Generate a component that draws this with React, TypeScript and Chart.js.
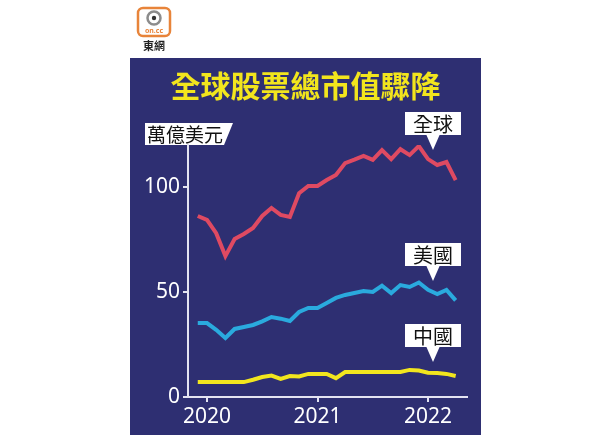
import React, { useEffect, useRef } from 'react';
import { Chart, registerables } from 'chart.js';

Chart.register(...registerables);

// Monthly points, Dec 2019 – Apr 2022
const months = [
  '2019-12', '2020-01', '2020-02', '2020-03', '2020-04', '2020-05', '2020-06', '2020-07', '2020-08', '2020-09', '2020-10', '2020-11', '2020-12',
  '2021-01', '2021-02', '2021-03', '2021-04', '2021-05', '2021-06', '2021-07', '2021-08', '2021-09', '2021-10', '2021-11', '2021-12',
  '2022-01', '2022-02', '2022-03', '2022-04',
];

// 萬億美元
const globalValues = [86.2, 84.3, 78, 67.1, 75.2, 77.6, 80.5, 86.2, 90, 86.7, 85.7, 97, 100.5, 100.5, 103.3, 105.7, 111.4, 113, 114.8, 112.9, 117.6, 113.3, 118, 115.2, 119.5, 113.3, 110.5, 111.9, 103.3];
const usValues = [35.2, 35.2, 32, 28.1, 32.4, 33.3, 34.3, 36, 38.1, 37.3, 36.2, 40.5, 42.4, 42.4, 44.8, 47.2, 48.6, 49.5, 50.5, 50, 53, 49.5, 53.3, 52.4, 54.5, 51, 49, 51, 46];
const chinaValues = [7.1, 7.1, 7.1, 7.1, 7.1, 7.1, 8.2, 9.5, 10.2, 8.6, 10, 9.8, 11, 11, 11, 9, 11.9, 11.9, 11.9, 11.9, 11.9, 11.9, 11.9, 12.9, 12.6, 11.6, 11.4, 11, 10];

const seriesNames = ['全球', '美國', '中國'];
const xTickMonths = ['2020-01', '2021-01', '2022-01'];
const xTickLabels = ['2020', '2021', '2022'];
const yTickValues = [0, 50, 100];

const titleText = '全球股票總市值驟降';
const unitText = '萬億美元';

const NAVY = '#2e2f72';
const AXIS = '#e4e4f2';
const NUM_FONT = '"Noto Sans", "DejaVu Sans", sans-serif';
const CJK_FONT = '"Noto Sans CJK TC", "Noto Sans CJK SC", sans-serif';

const decorPlugin = {
  id: 'decor',
  beforeDraw(chart: any) {
    const ctx = chart.ctx as CanvasRenderingContext2D;
    ctx.save();
    ctx.fillStyle = '#ffffff';
    ctx.fillRect(0, 0, chart.width, chart.height);
    // panel
    ctx.fillStyle = NAVY;
    ctx.fillRect(130, 58, 351, chart.height - 58);

    // logo
    ctx.beginPath();
    (ctx as any).roundRect(138, 8, 32, 28, 5);
    ctx.fillStyle = '#ffffff';
    ctx.fill();
    ctx.lineWidth = 2.5;
    ctx.strokeStyle = '#e8843a';
    ctx.stroke();
    ctx.beginPath();
    ctx.arc(154, 18, 6.5, 0, Math.PI * 2);
    ctx.lineWidth = 2.5;
    ctx.strokeStyle = '#8c8c8c';
    ctx.stroke();
    ctx.beginPath();
    ctx.arc(154, 18, 2.2, 0, Math.PI * 2);
    ctx.fillStyle = '#333333';
    ctx.fill();
    ctx.fillStyle = '#e8843a';
    ctx.font = 'bold 7px ' + NUM_FONT;
    ctx.textAlign = 'center';
    ctx.textBaseline = 'middle';
    ctx.fillText('on.cc', 154, 31);
    ctx.fillStyle = '#222222';
    ctx.font = 'bold 11px ' + CJK_FONT;
    ctx.fillText('東網', 154, 46);

    // title
    ctx.fillStyle = '#f2e51d';
    ctx.font = 'bold 30px ' + CJK_FONT;
    ctx.fillText(titleText, 305.5, 86);

    // unit callout
    ctx.beginPath();
    ctx.moveTo(145, 123);
    ctx.lineTo(233, 123);
    ctx.lineTo(224, 145);
    ctx.lineTo(145, 145);
    ctx.closePath();
    ctx.fillStyle = '#ffffff';
    ctx.fill();
    ctx.fillStyle = '#111111';
    ctx.font = '19px ' + CJK_FONT;
    ctx.textAlign = 'left';
    ctx.fillText(unitText, 147, 134.5);
    ctx.restore();
  },
  afterDraw(chart: any) {
    const ctx = chart.ctx as CanvasRenderingContext2D;
    const tops = [112, 243, 324];
    ctx.save();
    // extend x-axis slightly left of y-axis
    ctx.strokeStyle = AXIS;
    ctx.lineWidth = 2;
    ctx.beginPath();
    ctx.moveTo(183, chart.chartArea.bottom);
    ctx.lineTo(chart.chartArea.left, chart.chartArea.bottom);
    ctx.stroke();
    seriesNames.forEach((name, i) => {
      const t = tops[i];
      ctx.fillStyle = '#ffffff';
      ctx.fillRect(405, t, 56, 23);
      ctx.beginPath();
      ctx.moveTo(426, t + 22);
      ctx.lineTo(440, t + 22);
      ctx.lineTo(433, t + 38);
      ctx.closePath();
      ctx.fill();
      ctx.fillStyle = '#111111';
      ctx.font = '20px ' + CJK_FONT;
      ctx.textAlign = 'center';
      ctx.textBaseline = 'middle';
      ctx.fillText(name, 433, t + 12);
    });
    ctx.restore();
  },
};

export default function App() {
  const ref = useRef<HTMLCanvasElement>(null);
  useEffect(() => {
    if (!ref.current) return;
    const toPoints = (vals: number[]) => months.map((_, i) => ({ x: i, y: vals[i] }));
    const tickIdx = xTickMonths.map((m) => months.indexOf(m));
    const chart = new Chart(ref.current, {
      type: 'line',
      data: {
        datasets: [
          { label: seriesNames[0], data: toPoints(globalValues), borderColor: '#df4a62', borderWidth: 4, pointRadius: 0, tension: 0 },
          { label: seriesNames[1], data: toPoints(usValues), borderColor: '#2aaade', borderWidth: 4, pointRadius: 0, tension: 0 },
          { label: seriesNames[2], data: toPoints(chinaValues), borderColor: '#f2e61e', borderWidth: 4, pointRadius: 0, tension: 0 },
        ],
      },
      options: {
        animation: false,
        responsive: false,
        maintainAspectRatio: false,
        layout: { padding: { left: 130, right: 142, top: 145, bottom: 0 } },
        plugins: { legend: { display: false }, tooltip: { enabled: false }, title: { display: false } },
        scales: {
          x: {
            type: 'linear',
            min: -1.06,
            max: 29.23,
            afterBuildTicks: (s: any) => { s.ticks = tickIdx.map((v) => ({ value: v })); },
            afterFit: (s: any) => { s.height = 38; },
            grid: { display: true, drawOnChartArea: false, drawTicks: true, tickLength: 5, color: AXIS, lineWidth: 2 },
            border: { display: true, color: AXIS, width: 2 },
            ticks: {
              color: '#ffffff',
              font: { size: 21, family: NUM_FONT },
              padding: 2,
              maxRotation: 0,
              autoSkip: false,
              callback: (v: any) => xTickLabels[tickIdx.indexOf(Number(v))] ?? '',
            },
          },
          y: {
            type: 'linear',
            min: 0,
            max: 120,
            afterBuildTicks: (s: any) => { s.ticks = yTickValues.map((v) => ({ value: v })); },
            afterFit: (s: any) => { s.width = 58; },
            grid: { display: true, drawOnChartArea: false, drawTicks: true, tickLength: 5, color: AXIS, lineWidth: 2 },
            border: { display: true, color: AXIS, width: 2 },
            ticks: {
              color: '#ffffff',
              font: { size: 21, family: NUM_FONT },
              padding: 3,
              autoSkip: false,
              callback: (v: any) => String(v),
            },
          },
        },
      },
      plugins: [decorPlugin],
    });
    return () => chart.destroy();
  }, []);
  return (
    <div style={{ position: 'absolute', left: 0, top: 0, width: 609, height: 435 }}>
      <canvas ref={ref} width={609} height={435} style={{ display: 'block', width: 609, height: 435 }} />
    </div>
  );
}
